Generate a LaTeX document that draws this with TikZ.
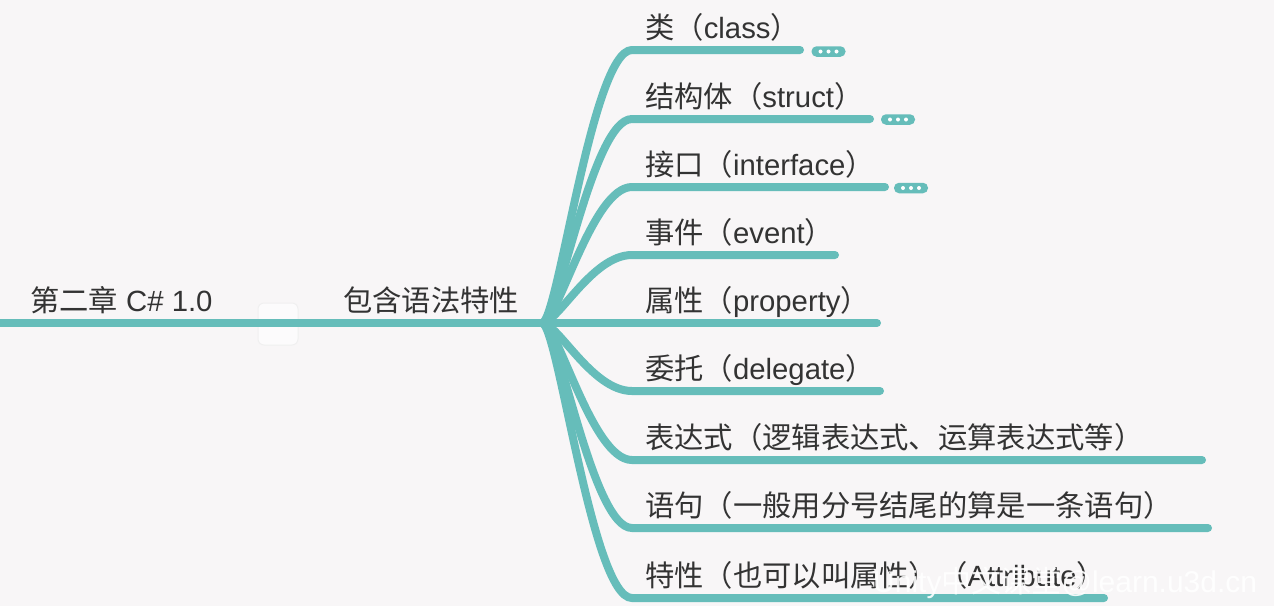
\documentclass[tikz,border=0pt]{standalone}
\usepackage{fontspec}
\usetikzlibrary{calc}
\setmainfont{Liberation Sans}
\newfontfamily\cjk{Noto Sans CJK SC}
\definecolor{bg}{RGB}{248,246,247}
\definecolor{teal}{RGB}{102,189,186}
\definecolor{txt}{RGB}{51,51,51}
\tikzset{
  lbl/.style={inner sep=0pt, anchor=base west, text=txt, font=\fontsize{29.3}{33}\selectfont},
  branch/.style={draw=teal, line width=8pt, line cap=round},
  badge/.style={draw=none, fill=teal, rounded corners=5pt, minimum width=34pt, minimum height=10.5pt, inner sep=0pt},
  wdot/.style={fill=white, draw=none},
}
\begin{document}
\begin{tikzpicture}[x=1pt,y=-1pt]
\useasboundingbox[fill=bg] (0,0) rectangle (1274,606);
% faint collapse button
\draw[draw=black!6, fill=white!60!bg, line width=1pt, rounded corners=6pt] (258,303) rectangle (298,345);
% root
\coordinate (left) at (-5,323);
\coordinate (fork) at (542,323);
\node[lbl] (root) at (30,311) {{\cjk 第二章} C\# 1.0};
\node[lbl] (mid) at (343,311) {\cjk 包含语法特性};
\draw[branch, line cap=butt] (left) -- (fork);
% children
\foreach \i/\y/\e/\t in {
  1/50/800/{{\cjk 类（}class{\cjk ）}},
  2/119/870/{{\cjk 结构体（}struct{\cjk ）}},
  3/187/885/{{\cjk 接口（}interface{\cjk ）}},
  4/255/835/{{\cjk 事件（}event{\cjk ）}},
  5/323/877/{{\cjk 属性（}property{\cjk ）}},
  6/391/880/{{\cjk 委托（}delegate{\cjk ）}},
  7/460/1202/{{\cjk 表达式（逻辑表达式、运算表达式等）}},
  8/528/1208/{{\cjk 语句（一般用分号结尾的算是一条语句）}},
  9/598/1104/{{\cjk 特性（也可以叫属性）（}Attribute{\cjk ）}}}
{
  \coordinate (s\i) at (632,\y);
  \coordinate (e\i) at (\e,\y);
  \node[lbl] (c\i) at (645,\y-12) {\t};
  \draw[branch] (fork) .. controls (558,323) and (592,\y) .. (s\i) -- (e\i);
}
% badges
\foreach \n/\x/\y in {1/828.5/51.5, 2/898/119.5, 3/911/188}{
  \node[badge] (b\n) at (\x,\y) {};
  \foreach \d in {-8,0,8}{
    \fill[wdot] ($(b\n.center)+(\d,0)$) circle (2pt);
  }
}
% watermark
\node[inner sep=0pt, anchor=base west, text=white, opacity=0.9, font=\fontsize{30}{34}\selectfont] (wm) at (873,592) {Unity{\cjk 中文课堂}@learn.u3d.cn};
\end{tikzpicture}
\end{document}
